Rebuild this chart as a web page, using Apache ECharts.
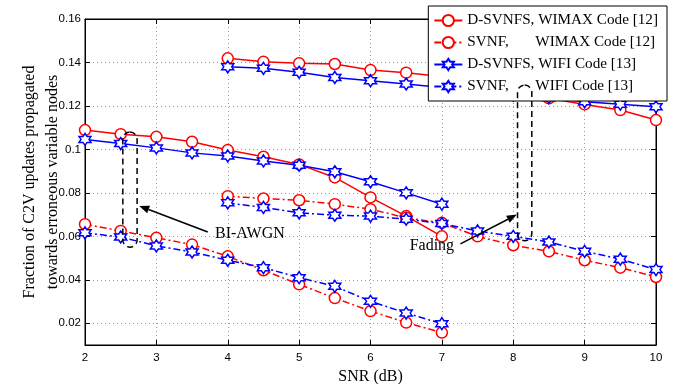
<!DOCTYPE html>
<html>
<head>
<meta charset="utf-8">
<script src="https://cdn.jsdelivr.net/npm/echarts@6/dist/echarts.min.js"></script>
<style>html,body{margin:0;background:#fff}#chart{width:677px;height:384px}</style>
</head>
<body>
<div id="chart"></div>
<script>
// SNR points (dB)
const snrAwgn = [2, 2.5, 3, 3.5, 4, 4.5, 5, 5.5, 6, 6.5, 7]
const snrFading = [4, 4.5, 5, 5.5, 6, 6.5, 7, 7.5, 8, 8.5, 9, 9.5, 10]

// BI-AWGN channel
const dsvnfsWimaxAwgn = [0.1089, 0.1070, 0.1058, 0.1035, 0.0997, 0.0966, 0.0931, 0.0871, 0.0779, 0.0693, 0.0600]
const svnfWimaxAwgn = [0.0656, 0.0625, 0.0593, 0.0562, 0.0508, 0.0444, 0.0379, 0.0316, 0.0256, 0.0203, 0.0157]
const dsvnfsWifiAwgn = [0.1046, 0.1027, 0.1007, 0.0984, 0.0970, 0.0947, 0.0927, 0.0897, 0.0851, 0.0800, 0.0748]
const svnfWifiAwgn = [0.0616, 0.0597, 0.0556, 0.0528, 0.0490, 0.0456, 0.0410, 0.0370, 0.0301, 0.0247, 0.0198]

// Fading channel
const dsvnfsWimaxFading = [0.1419, 0.1403, 0.1396, 0.1393, 0.1365, 0.1353, 0.1335, 0.1310, 0.1272, 0.1235, 0.1207, 0.1181, 0.1135]
const svnfWimaxFading = [0.0785, 0.0774, 0.0766, 0.0748, 0.0725, 0.0685, 0.0662, 0.0600, 0.0559, 0.0531, 0.0490, 0.0456, 0.0413]
const dsvnfsWifiFading = [0.1380, 0.1373, 0.1355, 0.1331, 0.1316, 0.1301, 0.1285, 0.1265, 0.1250, 0.1238, 0.1219, 0.1208, 0.1196]
const svnfWifiFading = [0.0754, 0.0733, 0.0708, 0.0697, 0.0693, 0.0679, 0.0659, 0.0625, 0.0600, 0.0574, 0.0531, 0.0495, 0.0447]

const yTicks = [0.02, 0.04, 0.06, 0.08, 0.1, 0.12, 0.14, 0.16]
const names = ['D-SVNFS, WIMAX Code [12]', 'SVNF,       WIMAX Code [12]', 'D-SVNFS, WIFI Code [13]', 'SVNF,       WIFI Code [13]']
const yTitle = 'Fraction of C2V updates propagated\ntowards erroneous variable nodes'

// annotation anchors in data space
const awgnLoop = [[2.53, 0.1080], [2.73, 0.0550]]
const fadingLoop = [[8.06, 0.1296], [8.26, 0.0580]]
const awgnArrow = [[3.72, 0.0620], [2.76, 0.0740]]
const fadingArrow = [[7.26, 0.0565], [8.05, 0.0700]]
const awgnText = [4.31, 0.0613]
const fadingText = [6.86, 0.0558]

const serif = '"Liberation Serif", "DejaVu Serif", serif'
const sans = '"Liberation Sans", Arial, sans-serif'
const RED = '#ff0000', BLUE = '#0000ff'
const hexagram = 'path://M50 0 L64.4 25 L93.3 25 L78.9 50 L93.3 75 L64.4 75 L50 100 L35.6 75 L6.7 75 L21.1 50 L6.7 25 L35.6 25 Z'
const dashDot = [7, 3, 2, 3]

const zip = (xs, ys) => xs.map((x, i) => [x, ys[i]])

const mkSeries = (name, xs, ys, color, dashed) => {
    const isStar = color === BLUE
    return {
        name,
        type: 'line',
        data: zip(xs, ys),
        symbol: isStar ? hexagram : 'circle',
        symbolSize: isStar ? 12 : 11,
        showSymbol: true,
        color,
        lineStyle: { color, width: 1.5, type: dashed ? dashDot : 'solid' },
        itemStyle: { color: '#fff', borderColor: color, borderWidth: 1.5 },
        emphasis: { disabled: true },
        animation: false,
        z: 3
    }
}

const chart = echarts.init(document.getElementById('chart'))

const option = {
    animation: false,
    grid: { left: 85, right: 21, top: 19, bottom: 39, show: true, borderColor: '#000', borderWidth: 1,
        outerBoundsMode: 'none', containLabel: false },
    legend: {
        data: names,
        orient: 'vertical',
        right: 10,
        top: 6,
        itemWidth: 28,
        itemHeight: 14,
        itemGap: 7,
        padding: [7, 9, 7, 5],
        backgroundColor: '#fff',
        borderColor: '#000',
        borderWidth: 1,
        textStyle: { fontFamily: serif, fontSize: 15.2, color: '#000' },
        z: 10
    },
    xAxis: [{
        type: 'value', min: 2, max: 10, interval: 1,
        name: 'SNR (dB)', nameLocation: 'middle', nameGap: 10,
        nameTextStyle: { fontFamily: serif, fontSize: 16, color: '#000' },
        axisLine: { lineStyle: { color: '#000' } },
        axisTick: { inside: true, length: 5, lineStyle: { color: '#000' } },
        axisLabel: { fontFamily: sans, fontSize: 11.5, color: '#000', margin: 7 },
        splitLine: { show: true, lineStyle: { type: [1, 3], color: '#999' } }
    }, {
        type: 'value', min: 2, max: 10, interval: 1, position: 'top',
        axisLine: { lineStyle: { color: '#000' } },
        axisTick: { inside: true, length: 5, lineStyle: { color: '#000' } },
        axisLabel: { show: false }, splitLine: { show: false }
    }],
    yAxis: [{
        type: 'value', min: 0.01, max: 0.16,
        axisLine: { lineStyle: { color: '#000' } },
        axisTick: { inside: true, length: 5, customValues: yTicks, lineStyle: { color: '#000' } },
        axisLabel: { fontFamily: sans, fontSize: 11.5, color: '#000', margin: 4, customValues: yTicks,
            formatter: v => String(+v.toFixed(2)) },
        splitLine: { show: true, lineStyle: { type: [1, 3], color: '#999' } }
    }, {
        type: 'value', min: 0.01, max: 0.16, position: 'right',
        axisLine: { show: true, lineStyle: { color: '#000' } },
        axisTick: { show: true, inside: true, length: 5, customValues: yTicks, lineStyle: { color: '#000' } },
        axisLabel: { show: false }, splitLine: { show: false }
    }],
    series: [
        mkSeries(names[0], snrAwgn, dsvnfsWimaxAwgn, RED, false),
        mkSeries(names[1], snrAwgn, svnfWimaxAwgn, RED, true),
        mkSeries(names[2], snrAwgn, dsvnfsWifiAwgn, BLUE, false),
        mkSeries(names[3], snrAwgn, svnfWifiAwgn, BLUE, true),
        mkSeries(names[0], snrFading, dsvnfsWimaxFading, RED, false),
        mkSeries(names[1], snrFading, svnfWimaxFading, RED, true),
        mkSeries(names[2], snrFading, dsvnfsWifiFading, BLUE, false),
        mkSeries(names[3], snrFading, svnfWifiFading, BLUE, true)
    ]
}
chart.setOption(option)

// annotations: dashed loops, arrows and labels (drawn above the legend)
const px = p => chart.convertToPixel({ gridIndex: 0 }, p)
const loop = pts => {
    const a = px(pts[0]), b = px(pts[1])
    const w = b[0] - a[0], h = b[1] - a[1]
    return {
        type: 'rect', z: 20,
        shape: { x: a[0], y: a[1], width: w, height: h, r: w / 2 },
        style: { fill: null, stroke: '#000', lineWidth: 1.5, lineDash: [6, 4] }
    }
}
const arrow = pts => {
    const a = px(pts[0]), b = px(pts[1])
    const ang = Math.atan2(b[1] - a[1], b[0] - a[0])
    const L = 10, W = 4
    const bx = b[0] - L * Math.cos(ang), by = b[1] - L * Math.sin(ang)
    return [{
        type: 'line', z: 20,
        shape: { x1: a[0], y1: a[1], x2: bx, y2: by },
        style: { stroke: '#000', lineWidth: 1.5 }
    }, {
        type: 'polygon', z: 20,
        shape: { points: [b, [bx + W * Math.sin(ang), by - W * Math.cos(ang)], [bx - W * Math.sin(ang), by + W * Math.cos(ang)]] },
        style: { fill: '#000' }
    }]
}
const label = (p, text) => {
    const c = px(p)
    return {
        type: 'text', z: 20, x: c[0], y: c[1],
        style: { text, fill: '#000', font: '16px ' + serif, align: 'center', verticalAlign: 'middle' }
    }
}
// y axis title, centred on the plot height
const plotTop = px([2, 0.16])[1], plotBottom = px([2, 0.01])[1]
chart.setOption({
    graphic: [
        loop(awgnLoop), loop(fadingLoop),
        ...arrow(awgnArrow), ...arrow(fadingArrow),
        label(awgnText, 'BI-AWGN'), label(fadingText, 'Fading'),
        {
            type: 'text', z: 20, x: 41, y: (plotTop + plotBottom) / 2, rotation: Math.PI / 2,
            style: { text: yTitle, fill: '#000', font: '16px ' + serif, lineHeight: 23,
                align: 'center', verticalAlign: 'middle' }
        }
    ]
})
</script>
</body>
</html>
